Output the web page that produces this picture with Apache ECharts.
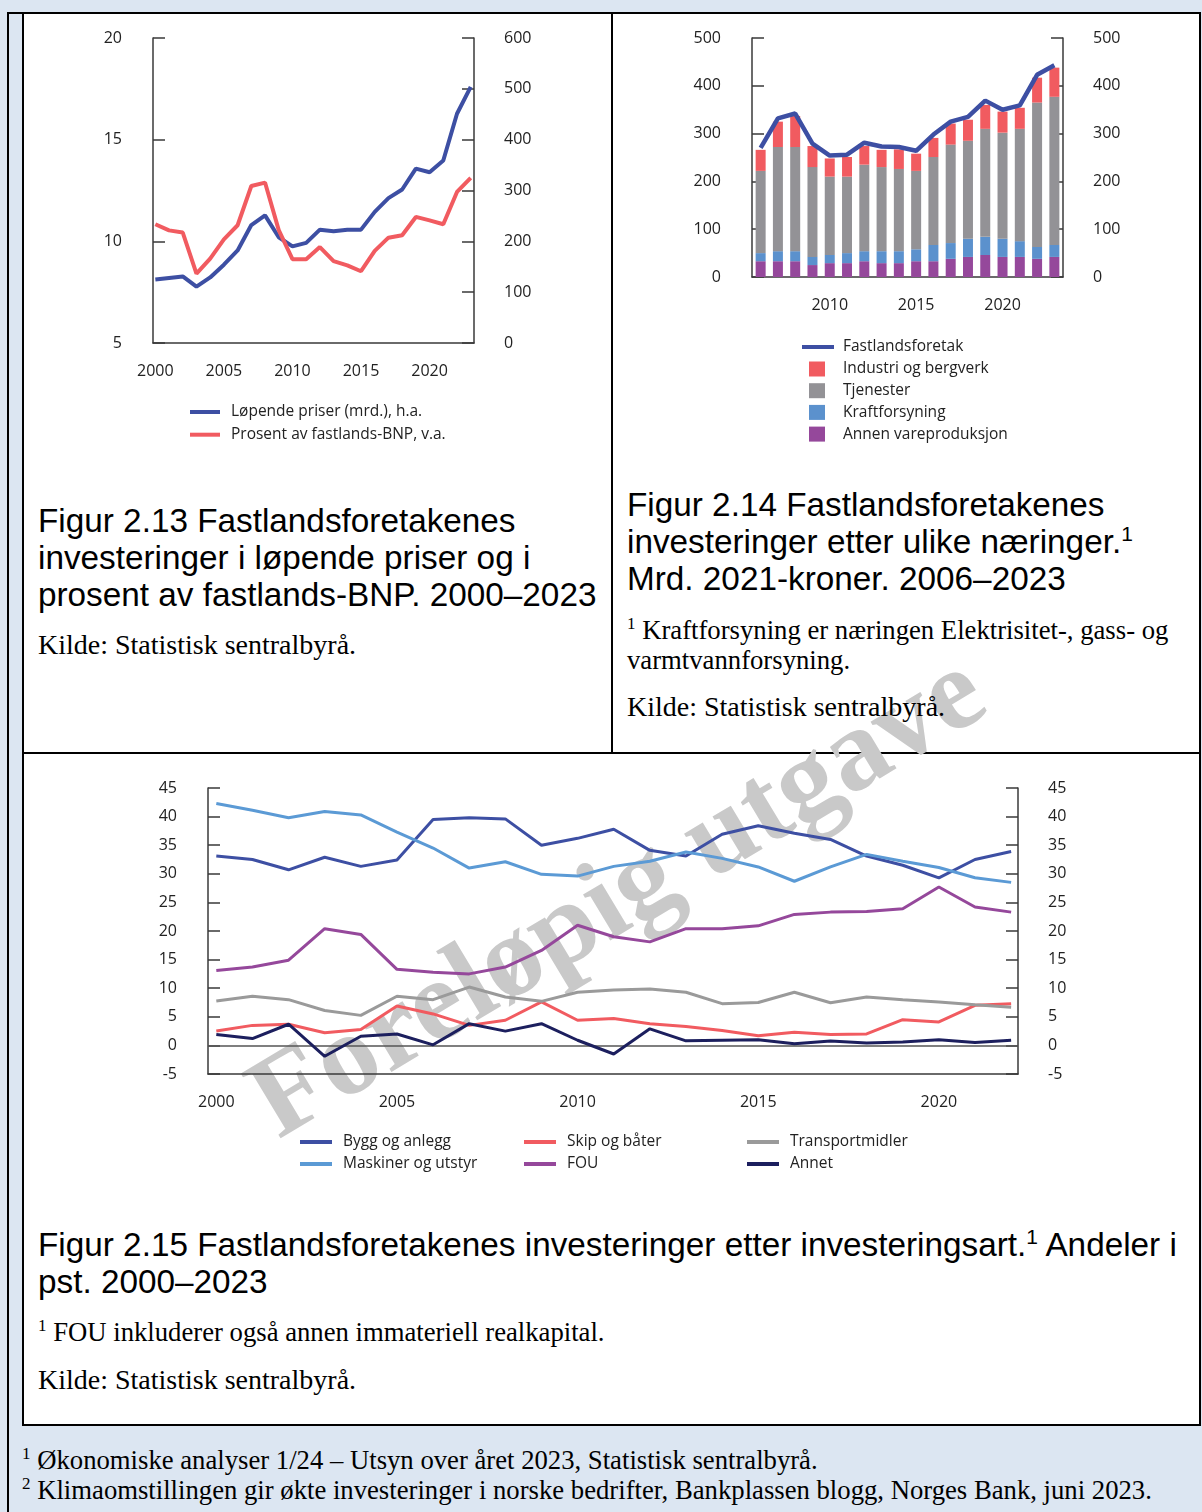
<!DOCTYPE html>
<html><head><meta charset="utf-8">
<script src="https://cdn.jsdelivr.net/npm/echarts@6/dist/echarts.min.js"></script>
<style>
html,body{margin:0;padding:0;}
body{width:1202px;height:1512px;position:relative;background:#dce6f2;overflow:hidden;color:#000;}
.abs{position:absolute;}
.cap{font-family:"Liberation Sans",Arial,sans-serif;font-size:33.3px;line-height:37px;white-space:nowrap;}
.src{font-family:"Liberation Serif","Times New Roman",serif;font-size:26.7px;line-height:30px;white-space:nowrap;}
.kilde{font-size:28px;}
.sup{font-size:17px;position:relative;top:-10px;line-height:0;}
.csup{font-size:21px;position:relative;top:-12px;line-height:0;}
.chart{position:absolute;}
</style></head>
<body>
<div class="abs" style="left:7px;top:12px;width:1192px;height:1500px;border-left:2px solid #000;border-top:2px solid #000;"></div>
<div class="abs" style="left:22px;top:12px;width:1175px;height:1410px;border:2px solid #000;background:#fff;"></div>
<div class="abs" style="left:611px;top:12px;width:2px;height:742px;background:#000;"></div>
<div class="abs" style="left:22px;top:752px;width:1179px;height:2px;background:#000;"></div>

<div class="abs" id="wm" style="left:615px;top:892px;transform:translate(-50%,-50%) rotate(-31deg);white-space:nowrap;font-family:'Liberation Serif',serif;font-weight:bold;font-size:116px;line-height:1;color:#c9c9c9;">Foreløpig utgave</div>

<div class="abs cap" style="left:38px;top:502px;">Figur 2.13 Fastlandsforetakenes<br>investeringer i løpende priser og i<br>prosent av fastlands-BNP. 2000–2023</div>
<div class="abs src kilde" style="left:38px;top:630px;">Kilde: Statistisk sentralbyrå.</div>

<div class="abs cap" style="left:627px;top:486px;">Figur 2.14 Fastlandsforetakenes<br>investeringer etter ulike næringer.<span class="csup">1</span><br>Mrd. 2021-kroner. 2006–2023</div>
<div class="abs src" style="left:627px;top:615px;"><span class="sup">1</span> Kraftforsyning er næringen Elektrisitet-, gass- og<br>varmtvannforsyning.</div>
<div class="abs src kilde" style="left:627px;top:692px;">Kilde: Statistisk sentralbyrå.</div>

<div class="abs cap" style="left:38px;top:1226px;">Figur 2.15 Fastlandsforetakenes investeringer etter investeringsart.<span class="csup">1</span> Andeler i<br>pst. 2000–2023</div>
<div class="abs src" style="left:38px;top:1317px;"><span class="sup">1</span> FOU inkluderer også annen immateriell realkapital.</div>
<div class="abs src kilde" style="left:38px;top:1365px;">Kilde: Statistisk sentralbyrå.</div>

<div class="abs src" style="left:22px;top:1445px;"><span class="sup">1</span> Økonomiske analyser 1/24 – Utsyn over året 2023, Statistisk sentralbyrå.<br><span class="sup">2</span> Klimaomstillingen gir økte investeringer i norske bedrifter, Bankplassen blogg, Norges Bank, juni 2023.</div>

<div id="c1" class="chart" style="left:22px;top:14px;width:589px;height:440px;"></div>
<div id="c2" class="chart" style="left:614px;top:14px;width:586px;height:440px;"></div>
<div id="c3" class="chart" style="left:24px;top:755px;width:1174px;height:430px;"></div>

<script>
// ---------- Figur 2.13 ----------
const years13 = [2000,2001,2002,2003,2004,2005,2006,2007,2008,2009,2010,2011,2012,2013,2014,2015,2016,2017,2018,2019,2020,2021,2022,2023];
const lopendePriser = [125,128,131,111,129,154,182,232,251,208,190,197,223,220,223,223,258,285,302,343,336,359,451,504];
const prosentBNP = [10.84,10.54,10.43,8.41,9.15,10.1,10.79,12.72,12.89,10.55,9.12,9.12,9.72,9.03,8.82,8.53,9.53,10.18,10.3,11.2,11.03,10.84,12.43,13.12];
const xLabels13 = [2000,2005,2010,2015,2020];

// ---------- Figur 2.14 ----------
const years14 = ['2006','2007','2008','2009','2010','2011','2012','2013','2014','2015','2016','2017','2018','2019','2020','2021','2022','2023'];
const annenVareproduksjon = [33,33,33,25,29,29,33,29,29,33,33,38,42,46,42,42,38,42];
const kraftforsyning = [17,21,21,17,17,21,21,25,25,25,34,33,38,38,38,33,25,25];
const tjenester = [172,218,218,188,164,160,181,176,172,164,184,206,205,226,222,235,302,310];
const industriBergverk = [44,53,65,44,38,41,39,36,41,36,40,44,44,50,44,44,52,61];
const fastlandsforetak = [270,332,342,279,254,256,281,273,272,264,298,325,335,369,350,359,423,443];

// ---------- Figur 2.15 ----------
const years15 = [2000,2001,2002,2003,2004,2005,2006,2007,2008,2009,2010,2011,2012,2013,2014,2015,2016,2017,2018,2019,2020,2021,2022];
const byggAnlegg = [33.1,32.5,30.7,32.9,31.3,32.4,39.5,39.8,39.6,35.0,36.2,37.8,34.1,33.1,36.9,38.4,37.1,36.0,33.1,31.5,29.3,32.5,33.9];
const maskinerUtstyr = [42.3,41.1,39.8,40.9,40.3,37.3,34.5,31.0,32.1,29.9,29.6,31.3,32.2,33.8,32.7,31.2,28.7,31.2,33.4,32.2,31.1,29.3,28.5];
const skipBater = [2.5,3.5,3.7,2.2,2.8,6.9,5.5,3.5,4.4,7.6,4.4,4.7,3.8,3.3,2.6,1.7,2.3,1.9,2.0,4.5,4.1,7.0,7.3];
const fou = [13.1,13.7,14.9,20.4,19.4,13.3,12.8,12.5,13.7,16.6,21.0,19.0,18.1,20.4,20.4,20.9,22.9,23.3,23.4,23.9,27.7,24.2,23.3];
const transportmidler = [7.75,8.6,8.0,6.1,5.25,8.6,8.0,10.2,8.45,7.7,9.3,9.7,9.85,9.3,7.3,7.5,9.3,7.46,8.45,8.0,7.6,7.1,6.65];
const annet = [1.9,1.2,3.7,-1.9,1.6,2.0,0.1,3.8,2.5,3.8,0.9,-1.5,2.9,0.8,0.9,1.0,0.3,0.76,0.4,0.6,1.0,0.5,0.9];
const xLabels15 = [2000,2005,2010,2015,2020];

const C = {
  blue:'#3d4fa3', red:'#f15b60', grey:'#939296', kraft:'#5b91cd', purple:'#95489b',
  light:'#5b9ad5', tgrey:'#9a9a9a', navy:'#1c1f5e'
};
const FONT = "'Open Sans','Noto Sans',sans-serif";
const TXT = '#222';
const AX = '#3a3a3a';

function pairs(xs, ys){ return xs.map((x,i)=>[x, ys[i]]); }
function yAx(pos, min, max, interval, margin, shift){
  return {type:'value', position:pos, min, max, interval,
    axisLine:{show:true, lineStyle:{color:AX, width:1.5}},
    axisTick:{show:true, inside:true, length:12, lineStyle:{color:AX, width:1.5}},
    splitLine:{show:false},
    axisLabel:{margin, fontSize:16, color:TXT, fontFamily:FONT, verticalAlign:'middle', padding:[shift||0,0,0,0]}};
}
function xLab(vals, margin){
  return {customValues:vals, margin, fontSize:16, color:TXT, fontFamily:FONT, formatter:(v)=>String(Math.round(v))};
}
function legendText(pad){ return {fontSize:15.5, color:TXT, fontFamily:FONT, lineHeight:16, padding:[0,0,0,pad]}; }

// Chart 1
const c1 = echarts.init(document.getElementById('c1'));
c1.setOption({
  animation:false,
  grid:{left:131, top:24, width:321, height:305},
  xAxis:{type:'value', min:1999.83, max:2023.24,
    axisLine:{show:true, onZero:false, lineStyle:{color:AX, width:1.5}},
    axisTick:{show:false}, splitLine:{show:false},
    axisLabel:xLab(xLabels13, 20)},
  yAxis:[yAx('left',5,20,5,31,6), yAx('right',0,600,100,30,6)],
  legend:{orient:'vertical', left:168, top:390, padding:0, icon:'rect', itemWidth:30, itemHeight:4, itemGap:6.7,
    textStyle:legendText(6),
    data:['Løpende priser (mrd.), h.a.','Prosent av fastlands-BNP, v.a.']},
  series:[
    {type:'line', name:'Løpende priser (mrd.), h.a.', yAxisIndex:1, data:pairs(years13, lopendePriser),
     symbol:'none', color:C.blue, lineStyle:{width:4, color:C.blue}},
    {type:'line', name:'Prosent av fastlands-BNP, v.a.', yAxisIndex:0, data:pairs(years13, prosentBNP),
     symbol:'none', color:C.red, lineStyle:{width:4, color:C.red}}
  ]
});

// Chart 2
const c2 = echarts.init(document.getElementById('c2'));
function barS(name, data, color){
  return {type:'bar', name, stack:'a', data, barWidth:10, color, itemStyle:{color}};
}
c2.setOption({
  animation:false,
  grid:{left:138, top:24, width:311, height:239},
  xAxis:{type:'category', data:years14, boundaryGap:true,
    axisLine:{show:true, lineStyle:{color:AX, width:1.5}},
    axisTick:{show:false},
    axisLabel:{interval:(i,v)=>Number(v)%5===0, margin:20, fontSize:16, color:TXT, fontFamily:FONT}},
  yAxis:[yAx('left',0,500,100,31,6), yAx('right',0,500,100,30,6)],
  legend:[
    {orient:'vertical', left:188, top:325, padding:0, icon:'rect', itemWidth:32, itemHeight:4,
     textStyle:legendText(4), data:['Fastlandsforetak']},
    {orient:'vertical', left:195, top:347, padding:0, icon:'rect', itemWidth:16, itemHeight:15, itemGap:5.7,
     textStyle:legendText(13),
     data:['Industri og bergverk','Tjenester','Kraftforsyning','Annen vareproduksjon']}
  ],
  series:[
    barS('Annen vareproduksjon', annenVareproduksjon, C.purple),
    barS('Kraftforsyning', kraftforsyning, C.kraft),
    barS('Tjenester', tjenester, C.grey),
    barS('Industri og bergverk', industriBergverk, C.red),
    {type:'line', name:'Fastlandsforetak', data:fastlandsforetak, symbol:'none', color:C.blue,
     lineStyle:{width:4.5, color:C.blue}, z:5}
  ]
});

// Chart 3
const c3 = echarts.init(document.getElementById('c3'));
function lineS(name, data, color){
  return {type:'line', name, data:pairs(years15, data), symbol:'none', color, lineStyle:{width:3, color}};
}
const s3 = [
  lineS('Bygg og anlegg', byggAnlegg, C.blue),
  lineS('Maskiner og utstyr', maskinerUtstyr, C.light),
  lineS('Skip og båter', skipBater, C.red),
  lineS('FOU', fou, C.purple),
  lineS('Transportmidler', transportmidler, C.tgrey),
  lineS('Annet', annet, C.navy)
];
s3[0].markLine = {silent:true, symbol:'none', label:{show:false}, animation:false,
  lineStyle:{color:'#555', width:1.5, type:'solid'}, data:[{yAxis:0}], z:1};
c3.setOption({
  animation:false,
  grid:{left:184, top:33, width:810, height:286},
  xAxis:{type:'value', min:1999.77, max:2022.19,
    axisLine:{show:true, onZero:false, lineStyle:{color:AX, width:1.5}},
    axisTick:{show:false}, splitLine:{show:false},
    axisLabel:xLab(xLabels15, 20)},
  yAxis:[yAx('left',-5,45,5,31,2), yAx('right',-5,45,5,30,2)],
  legend:[
    {orient:'vertical', left:276, top:379, padding:0, icon:'rect', itemWidth:32, itemHeight:4, itemGap:6,
     textStyle:legendText(6), data:['Bygg og anlegg','Maskiner og utstyr']},
    {orient:'vertical', left:500, top:379, padding:0, icon:'rect', itemWidth:32, itemHeight:4, itemGap:6,
     textStyle:legendText(6), data:['Skip og båter','FOU']},
    {orient:'vertical', left:723, top:379, padding:0, icon:'rect', itemWidth:32, itemHeight:4, itemGap:6,
     textStyle:legendText(6), data:['Transportmidler','Annet']}
  ],
  series:s3
});
</script>
</body></html>
